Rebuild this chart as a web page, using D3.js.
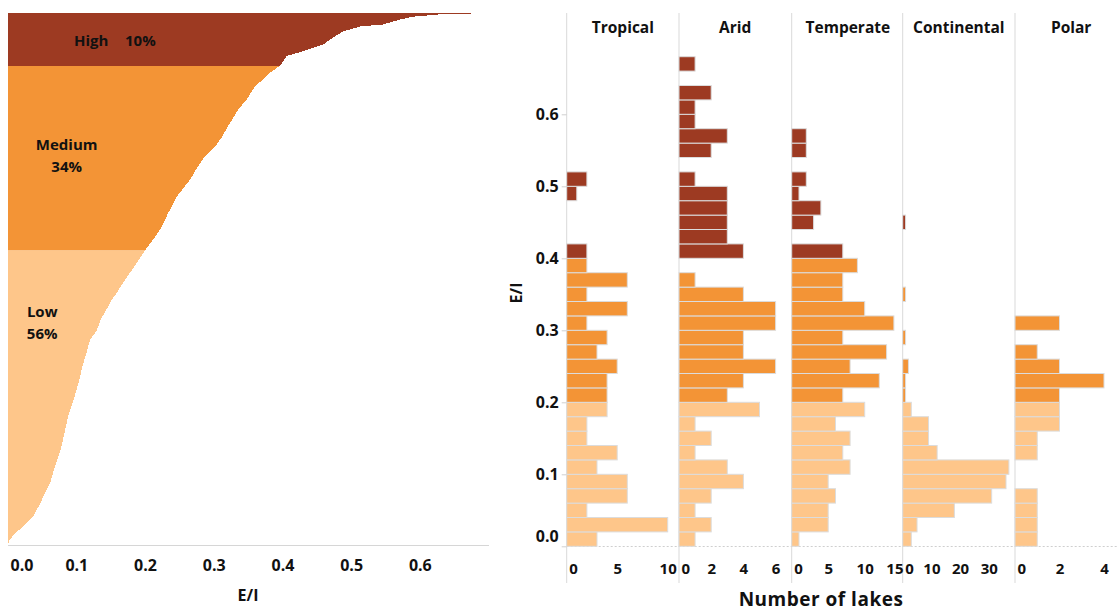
<!DOCTYPE html>
<html><head><meta charset="utf-8">
<script src="https://cdn.jsdelivr.net/npm/d3@7"></script>
<style>
body{margin:0;background:#fff}
text{font-family:'Open Sans',sans-serif;font-weight:700;fill:#111}
</style>
</head><body>
<svg id="c" width="1118" height="611"></svg>
<script>
// ---------------- DATA ----------------
const climates = ["Tropical", "Arid", "Temperate", "Continental", "Polar"];
const binWidth = 0.02; // E/I bin width, bins start at 0
// number of lakes per E/I bin (bin 0 = 0.00-0.02, bin 33 = 0.66-0.68)
const tropical    = [3,10,2,6,6,3,5,2,2,4, 4,4,5,3,4,2,6,2,6,2, 2,0,0,0,1,2,0,0,0,0, 0,0,0,0];
const arid        = [1,2,1,2,4,3,1,2,1,5, 3,4,6,4,4,6,6,4,1,0, 4,3,3,3,3,1,0,2,3,1, 1,2,0,1];
const temperate   = [1,5,5,6,5,8,7,8,6,10, 7,12,8,13,7,14,10,7,7,9, 7,0,3,4,1,2,0,2,2,0, 0,0,0,0];
const continental = [3,5,18,31,36,37,12,9,9,3, 1,1,2,0,1,0,0,1,0,0, 0,0,1,0,0,0,0,0,0,0, 0,0,0,0];
const polar       = [1,1,1,1,0,0,1,1,2,2, 2,4,2,1,0,2,0,0,0,0, 0,0,0,0,0,0,0,0,0,0, 0,0,0,0];
const panelTicks = [[0,5,10],[0,2,4,6],[0,5,10,15],[0,10,20,30],[0,2,4]];
const eiTicks = [0, 0.1, 0.2, 0.3, 0.4, 0.5, 0.6];
const thresholds = [0.2, 0.4];           // Low < 0.2 <= Medium < 0.4 <= High
const categories = ["Low", "Medium", "High"];
const categoryPct = ["56%", "34%", "10%"];
// sorted E/I of all lakes (rank from lowest)
const curveRank = [0,5,12,19,29,39,46,63,80,96,114,130,147,164,181,198,208,218,228,239,249,256,269,286,300,310,320,337,354,371,384,394,404,414,425,442,452,465,479,486.5,496,499,504,507.5,514,521,526,528,533,536,538,539,539,540];
const curveEI   = [0.000,0.003,0.011,0.023,0.037,0.045,0.050,0.062,0.069,0.077,0.083,0.088,0.096,0.103,0.109,0.116,0.120,0.130,0.135,0.144,0.152,0.159,0.171,0.188,0.201,0.212,0.222,0.234,0.247,0.266,0.277,0.287,0.302,0.312,0.321,0.336,0.348,0.360,0.382,0.397,0.406,0.421,0.443,0.459,0.472,0.488,0.513,0.546,0.571,0.590,0.625,0.634,0.674,0.674];

// ---------------- STYLE / LAYOUT ----------------
const colors = ["#fec68a", "#f39436", "#9d3a22"];
const svg = d3.select("#c");
const series = [tropical, arid, temperate, continental, polar];
const catOfBin = b => (b * binWidth + 1e-9 >= thresholds[1]) ? 2 : (b * binWidth + 1e-9 >= thresholds[0] ? 1 : 0);
const catCounts = [0,1,2].map(c => d3.sum(series, s => d3.sum(s.filter((v,b) => catOfBin(b) === c))));
const nLakes = d3.sum(catCounts);

// ---------- LEFT: sorted E/I ----------
const xL = d3.scaleLinear().domain([0, 0.7]).range([7.6, 488.5]);
const yL = d3.scaleLinear().domain([0, nLakes]).range([545, 12.7]);
const pts = curveRank.map((r,i) => ({r, v: curveEI[i]}));
const area = d3.area().y(d => yL(d.r)).x0(xL(0)).x1(d => xL(d.v)).curve(d3.curveLinear);
const defs = svg.append("defs");
const bounds = [0, catCounts[0], catCounts[0] + catCounts[1], nLakes];
[0,1,2].forEach(c => {
  defs.append("clipPath").attr("id", "band" + c).append("rect")
    .attr("x", 0).attr("width", 500)
    .attr("y", yL(bounds[c+1]) - (c === 2 ? 1 : 0))
    .attr("height", yL(bounds[c]) - yL(bounds[c+1]) + (c === 2 ? 1 : 0));
  svg.append("path").datum(pts).attr("d", area).attr("fill", colors[c])
    .attr("shape-rendering", "crispEdges")
    .attr("clip-path", `url(#band${c})`);
});
svg.append("line").attr("x1", 8).attr("x2", 489).attr("y1", 545.5).attr("y2", 545.5)
  .attr("stroke", "#d6d6d6");
const gxL = svg.append("g").attr("transform", "translate(0,565)")
  .call(d3.axisBottom(xL).tickValues(eiTicks).tickSize(0).tickFormat(d3.format(".1f")));
gxL.select(".domain").remove();
gxL.selectAll("text").attr("y", 0).attr("dy", "0.35em").style("font-size", "16px")
  .style("font-family", "'Open Sans',sans-serif").attr("fill", "#111")
  .filter(d => d === 0).attr("text-anchor", "start").attr("x", 2.5);
svg.append("text").attr("x", 248).attr("y", 595).attr("dy", "0.35em").attr("text-anchor", "middle")
  .style("font-size", "16px").text("E/I");
// category labels
const lab = (x, y, t, anchor) => svg.append("text").attr("x", x).attr("y", y).attr("dy", "0.35em")
  .attr("text-anchor", anchor).style("font-size", "15px").text(t);
lab(74, 40.7, categories[2], "start");
lab(125, 40.7, categoryPct[2], "start");
lab(66.7, 145, categories[1], "middle");
lab(66.7, 166.7, categoryPct[1], "middle");
lab(42.2, 311.7, categories[0], "middle");
lab(42.2, 333.3, categoryPct[0], "middle");

// ---------- RIGHT: histograms ----------
const panelLeft = [566.7, 679, 791.7, 902.7, 1015];
const panelW = 112.3;
const pxPerUnit = [10.1, 16.1, 7.3, 2.87, 22.25];
const yR = d3.scaleLinear().domain([0, 0.7]).range([546.3, 42.3]);

panelLeft.forEach(x => {
  svg.append("line").attr("x1", x).attr("x2", x).attr("y1", 13).attr("y2", 583)
    .attr("stroke", "#d9d9d9");
});
svg.append("line").attr("x1", panelLeft[0]).attr("x2", 1118).attr("y1", 546.5).attr("y2", 546.5)
  .attr("stroke", "#cfcfcf").attr("stroke-dasharray", "2,2");

// y axis
const gy = svg.append("g").attr("transform", `translate(${panelLeft[0]},0)`)
  .call(d3.axisLeft(yR).tickValues(eiTicks).tickSize(5).tickPadding(3).tickFormat(d3.format(".1f")));
gy.select(".domain").remove();
gy.selectAll("line").attr("stroke", "#d0d0d0");
gy.selectAll("text").style("font-size", "16px").style("font-family", "'Open Sans',sans-serif")
  .attr("fill", "#111").filter(d => d === 0).attr("y", -10);
svg.append("text").attr("transform", "translate(516.7,293) rotate(-90)").attr("dy", "0.35em")
  .attr("text-anchor", "middle").style("font-size", "16px").text("E/I");

climates.forEach((name, i) => {
  const x0 = panelLeft[i];
  const xs = d3.scaleLinear().domain([0, panelW / pxPerUnit[i]]).range([x0, x0 + panelW]);
  const bins = series[i].map((n, b) => ({n, b})).filter(d => d.n > 0);
  svg.append("g").selectAll("rect").data(bins).join("rect")
    .attr("x", xs(0))
    .attr("y", d => yR((d.b + 1) * binWidth))
    .attr("width", d => xs(d.n) - xs(0))
    .attr("height", d => yR(d.b * binWidth) - yR((d.b + 1) * binWidth))
    .attr("fill", d => colors[catOfBin(d.b)])
    .attr("stroke", "#dcdcdc").attr("stroke-width", 1);
  svg.append("text").attr("x", x0 + panelW / 2).attr("y", 28).attr("dy", "0.35em")
    .attr("text-anchor", "middle").style("font-size", "15.5px").text(name);
  const gx = svg.append("g").attr("transform", "translate(0,568.6)")
    .call(d3.axisBottom(xs).tickValues(panelTicks[i]).tickSize(0).tickFormat(d3.format("d")));
  gx.select(".domain").remove();
  const right = x0 + panelW;
  gx.selectAll("text").attr("y", 0).attr("dy", "0.35em").style("font-size", "15px")
    .style("font-family", "'Open Sans',sans-serif").attr("fill", "#111")
    .each(function(d) {
      const t = d3.select(this);
      if (d === 0) { t.attr("text-anchor", "start").attr("x", 2); }
      else if (xs(d) + 8 > right) { t.attr("text-anchor", "end").attr("x", right - 1 - xs(d)); }
    });
});
svg.append("text").attr("x", 821).attr("y", 605.5).attr("text-anchor", "middle")
  .style("font-size", "19px").style("letter-spacing", "0.5px").text("Number of lakes");
</script>
</body></html>
